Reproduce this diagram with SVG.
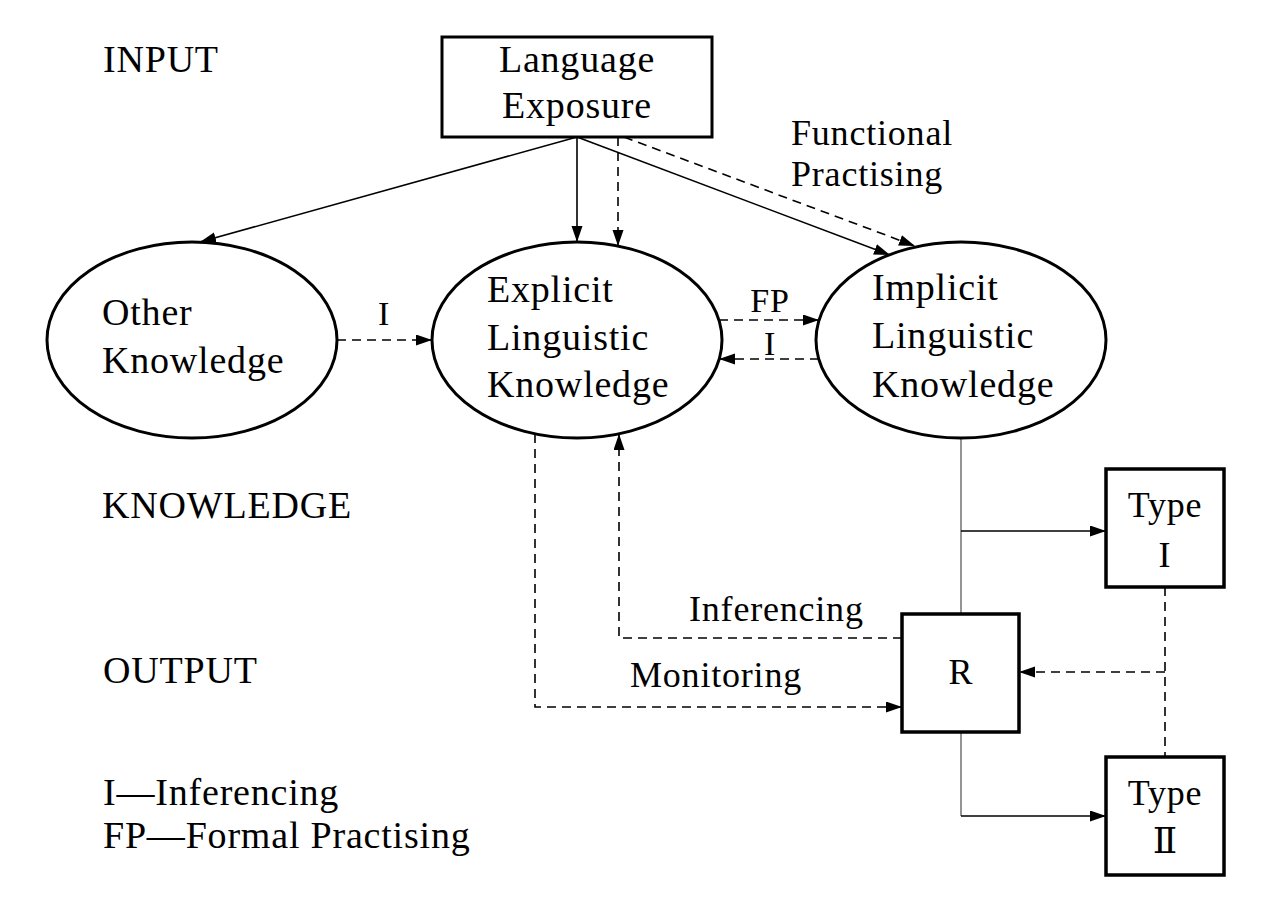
<svg xmlns="http://www.w3.org/2000/svg" width="1270" height="909" viewBox="0 0 1270 909">
<style>
text{font-family:"Liberation Serif","Times New Roman",serif;fill:#000;letter-spacing:0.8px}
.n{font-size:38px}
.l{font-size:36px}
.s{font-size:34px}
.c{text-anchor:middle}
.rn{font-family:"DejaVu Serif","Liberation Serif",serif;letter-spacing:0}
.shape{fill:#fff;stroke:#000;stroke-width:3}
.box{fill:#fff;stroke:#000;stroke-width:3.5}
.ln{fill:none;stroke:#000;stroke-width:1.6}
.ds{fill:none;stroke:#000;stroke-width:1.6;stroke-dasharray:9 6}
.gr{fill:none;stroke:#7a7a7a;stroke-width:1.6}
</style>
<defs>
<marker id="ah" markerUnits="userSpaceOnUse" markerWidth="16" markerHeight="12" refX="16" refY="5.5" orient="auto">
<path d="M0,0 L16,5.5 L0,11 z" fill="#000"/>
</marker>
</defs>
<g id="section-labels">
<text class="n" x="103" y="72">INPUT</text>
<text class="n" x="102" y="518">KNOWLEDGE</text>
<text class="n" x="103" y="683">OUTPUT</text>
<text class="n" x="103" y="805">I—Inferencing</text>
<text class="n" x="103" y="848">FP—Formal Practising</text>
</g>
<g id="connectors">
<line class="ln" x1="577" y1="137" x2="200" y2="242" marker-end="url(#ah)"/>
<line class="ln" x1="577" y1="137" x2="577" y2="242" marker-end="url(#ah)"/>
<line class="ds" x1="618" y1="137" x2="618" y2="246" marker-end="url(#ah)"/>
<line class="ln" x1="577" y1="137" x2="890" y2="255" marker-end="url(#ah)"/>
<line class="ds" x1="624" y1="137" x2="915" y2="246" marker-end="url(#ah)"/>
<line class="ds" x1="337" y1="340" x2="432" y2="340" marker-end="url(#ah)"/>
<line class="ds" x1="719" y1="320" x2="819" y2="320" marker-end="url(#ah)"/>
<line class="ds" x1="819" y1="359" x2="719" y2="359" marker-end="url(#ah)"/>
<polyline class="ds" points="535,434 535,707 902,707" marker-end="url(#ah)"/>
<polyline class="ds" points="902,638 619,638 619,434" marker-end="url(#ah)"/>
<line class="gr" x1="961" y1="438" x2="961" y2="614"/>
<line class="ln" x1="961" y1="531" x2="1106" y2="531" marker-end="url(#ah)"/>
<polyline class="gr" points="961,732 961,816"/>
<line class="ln" x1="961" y1="816" x2="1106" y2="816" marker-end="url(#ah)"/>
<line class="ds" x1="1165" y1="587" x2="1165" y2="757"/>
<line class="ds" x1="1165" y1="672" x2="1019" y2="672" marker-end="url(#ah)"/>
<text class="l" x="791" y="145">Functional</text>
<text class="l" x="791" y="186">Practising</text>
<text class="s c" x="384" y="325">I</text>
<text class="s c" x="770" y="312">FP</text>
<text class="s c" x="770" y="355">I</text>
<text class="l" x="689" y="621">Inferencing</text>
<text class="l" x="630" y="687">Monitoring</text>
</g>
<g id="language-exposure">
<rect class="shape" x="442" y="37" width="270" height="100"/>
<text class="n c" x="577" y="72">Language</text>
<text class="n c" x="577" y="118">Exposure</text>
</g>
<g id="other-knowledge">
<ellipse class="shape" cx="192" cy="340" rx="145" ry="98"/>
<text class="n" x="102" y="325">Other</text>
<text class="n" x="102" y="373">Knowledge</text>
</g>
<g id="explicit-knowledge">
<ellipse class="shape" cx="577" cy="340" rx="145" ry="98"/>
<text class="n" x="487" y="302">Explicit</text>
<text class="n" x="487" y="350">Linguistic</text>
<text class="n" x="487" y="397">Knowledge</text>
</g>
<g id="implicit-knowledge">
<ellipse class="shape" cx="961" cy="340" rx="145" ry="98"/>
<text class="n" x="872" y="300">Implicit</text>
<text class="n" x="872" y="348">Linguistic</text>
<text class="n" x="872" y="397">Knowledge</text>
</g>
<g id="r">
<rect class="box" x="902" y="614" width="117" height="118"/>
<text class="l c" x="961" y="684">R</text>
</g>
<g id="type-1">
<rect class="box" x="1106" y="469" width="118" height="118"/>
<text class="l c" x="1165" y="517">Type</text>
<text class="l c" x="1165" y="567">I</text>
</g>
<g id="type-2">
<rect class="box" x="1106" y="757" width="118" height="118"/>
<text class="l c" x="1165" y="805">Type</text>
<text class="l c rn" x="1165" y="853">Ⅱ</text>
</g>
</svg>
